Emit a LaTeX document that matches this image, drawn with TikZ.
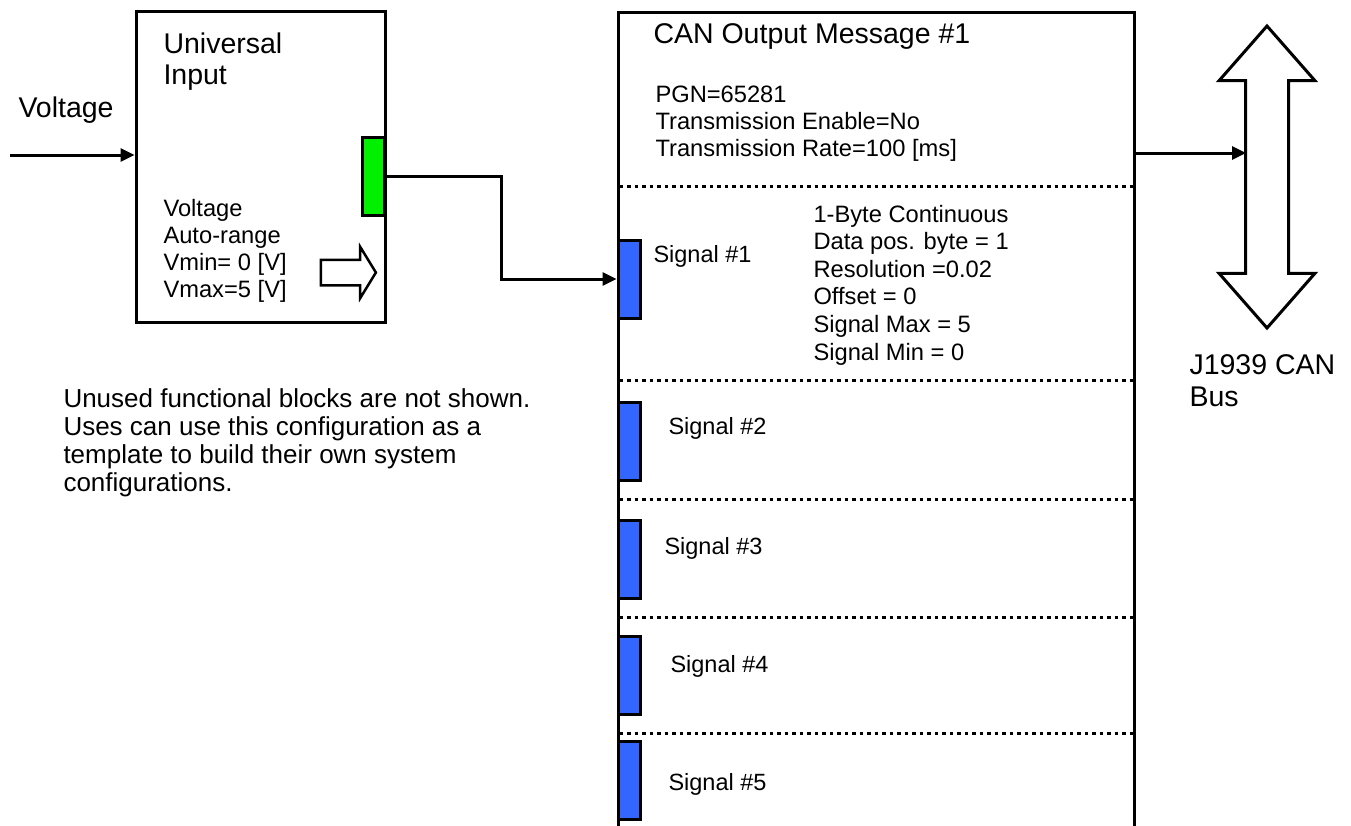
\documentclass[tikz,border=0pt]{standalone}
\usepackage{fontspec}
\setmainfont{Liberation Sans}
\usetikzlibrary{arrows.meta,shapes.arrows,positioning}

\definecolor{portgreen}{RGB}{0,240,0}
\definecolor{portblue}{RGB}{51,102,255}

\begin{document}
\begin{tikzpicture}[x=1pt,y=-1pt,line width=3pt,
    big/.style={font=\fontsize{28.5}{31.5}\selectfont},
    small/.style={font=\fontsize{23.7}{26.7}\selectfont},
    txt/.style={inner sep=0pt,anchor=base west,align=left},
    lbl/.style={inner sep=0pt,anchor=west,font=\fontsize{23.5}{26}\selectfont},
    block/.style={draw,rectangle,inner sep=0pt},
    port/.style={draw,rectangle,inner sep=0pt,minimum width=22pt,minimum height=78pt},
    wire/.style={-{Triangle[length=14pt,width=13pt]},line width=3pt},
    sepline/.style={dash pattern=on 3.5pt off 4pt,line width=3pt}]
  \useasboundingbox (0,0) rectangle (1351,825);
  \clip (0,0) rectangle (1351,825);

  % universal input
  \node[block,minimum width=249pt,minimum height=311pt] (ui) at (260.5,166.5) {};
  \node[txt,big] (uititle) at (162,84.5) {Universal\\Input};
  \node[txt,small] (uiparam) at (162,297) {Voltage\\Auto-range\\Vmin= 0 [V]\\Vmax=5 [V]};
  \node[single arrow,draw,line width=2.5pt,inner sep=11.5pt,minimum height=55pt,
        single arrow head extend=13pt,single arrow tip angle=117] (uiarrow) at (344.5,272.5) {};
  \node[port,fill=portgreen] (uiout) at (373.5,176) {};
  \node[txt,big] (vlabel) at (17,117) {Voltage};
  \coordinate (vin) at (10,155);
  \draw[wire] (vin) -- (vin -| ui.west);

  % CAN output message
  \node[block,minimum width=516pt,minimum height=840pt] (can) at (876,432) {};
  \node[txt,big] (cantitle) at (652,43) {CAN Output Message \#1};
  \node[txt,small] (canparam) at (654,156) {PGN=65281\\Transmission Enable=No\\Transmission Rate=100 [ms]};
  \foreach \y in {186,380,499,617,733}
    \draw[sepline] (619.5,\y) -- (can.east |- 0,\y);
  \foreach \i/\y/\lx/\ly in {1/279/652/256,2/441/667/428,3/559/663/548,4/675/669/666,5/780/667/784} {
    \node[port,fill=portblue] (sig\i) at (629,\y) {};
    \node[lbl] (siglbl\i) at (\lx,\ly) {Signal \#\i};
  }
  \node[txt,font=\fontsize{23.7}{27.6}\selectfont] (siginfo) at (812,360)
    {1-Byte Continuous\\Data pos. byte = 1\\Resolution =0.02\\Offset = 0\\Signal Max = 5\\Signal Min = 0};
  \draw[wire] (uiout.east) -- ++(115,0) |- (sig1.west);

  % J1939 bus
  \node[double arrow,draw,rotate=90,inner sep=20pt,minimum height=302pt,
        double arrow head extend=26.5pt,double arrow tip angle=82.5] (bus) at (1267,177) {};
  \coordinate (busin) at (1246,153);
  \draw[wire] (can.east |- busin) -- (busin);
  \node[txt,big] (buslbl) at (1188,406) {J1939 CAN\\Bus};

  \node[txt,font=\fontsize{26}{28}\selectfont] (note) at (62,491)
    {Unused functional blocks are not shown.\\Uses can use this configuration as a\\template to build their own system\\configurations.};
\end{tikzpicture}
\end{document}
